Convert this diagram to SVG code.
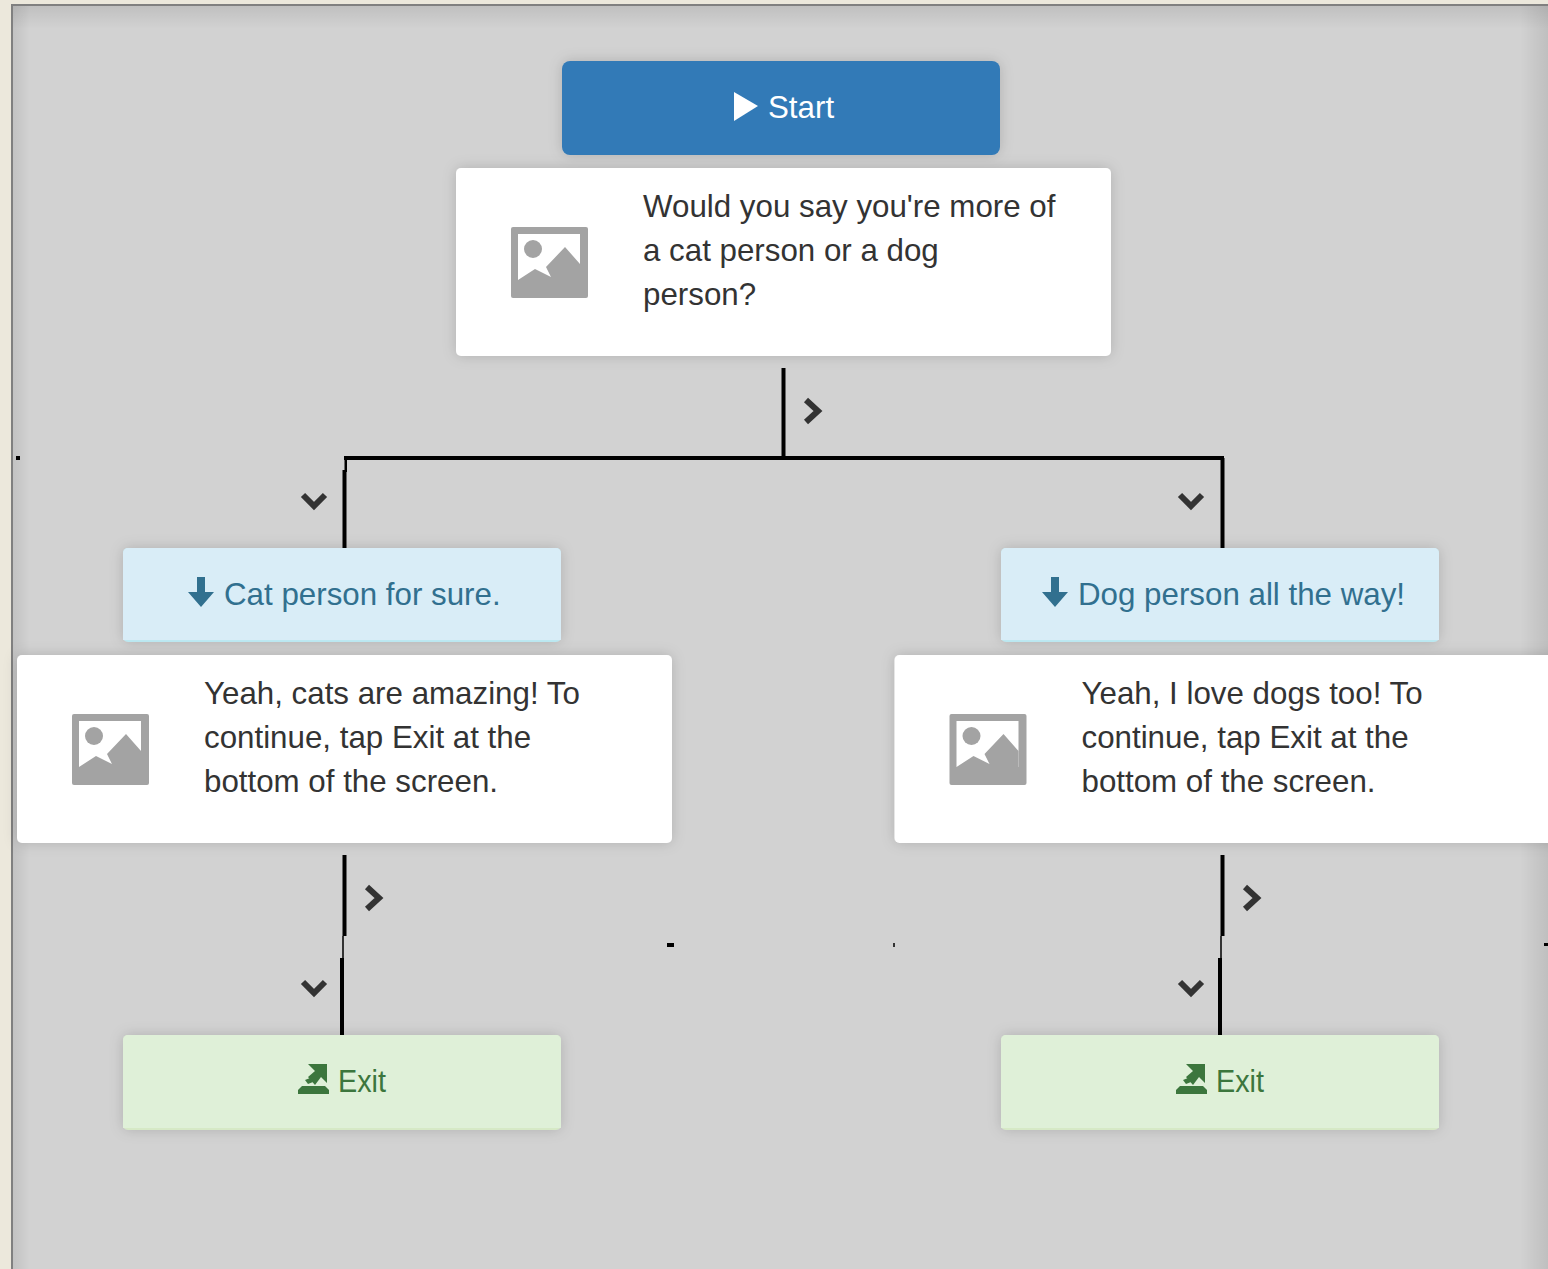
<svg xmlns="http://www.w3.org/2000/svg" width="1548" height="1269" viewBox="0 0 1548 1269">
<style>
text{font-family:"Liberation Sans",Arial,sans-serif;font-size:31.3px}
.body{fill:#333}
.card{fill:#fff}
.shadow{filter:url(#sh)}
.line{fill:#000}
.chev{fill:none;stroke:#333;stroke-width:6}
.ilabel{fill:#31708f}
.elabel{fill:#3c763d}
</style>
<defs>
<filter id="sh" x="-5%" y="-15%" width="110%" height="130%"><feDropShadow dx="0" dy="0" stdDeviation="7" flood-color="#000" flood-opacity="0.16"/></filter>
<linearGradient id="rg" x1="0" x2="1" y1="0" y2="0"><stop offset="0" stop-color="#000" stop-opacity="0"/><stop offset="1" stop-color="#000" stop-opacity="0.09"/></linearGradient>
<linearGradient id="tg" x1="0" x2="0" y1="0" y2="1"><stop offset="0" stop-color="#000" stop-opacity="0.09"/><stop offset="1" stop-color="#000" stop-opacity="0"/></linearGradient>
<linearGradient id="lg" x1="0" x2="1" y1="0" y2="0"><stop offset="0" stop-color="#000" stop-opacity="0.08"/><stop offset="1" stop-color="#000" stop-opacity="0"/></linearGradient>
<g id="img">
<rect width="77" height="71" rx="2" fill="#a3a3a3"/>
<rect x="7" y="7" width="62" height="46" fill="#fff"/>
<circle cx="22" cy="22" r="9" fill="#a3a3a3"/>
<path d="M7 53L24 42L40 50L35 40L54 20L69 37V60H7Z" fill="#a3a3a3"/>
</g>
<path id="down" d="M-4 -17H4V-2H13L0 13L-13 -2H-4Z"/>
<g id="exit"><path d="M0 31V27L4 23H27L31 27V31Z"/><path d="M10 1H29V20L23 14L17 22L10 14L17 8Z"/><path d="M7 17L12 15L15 19L10 21Z"/></g>
</defs>

<rect width="1548" height="1269" fill="#ece8dc"/>
<rect x="12" y="5" width="1536" height="1264" fill="#d2d2d2"/>
<rect x="1520" y="5" width="28" height="1264" fill="url(#rg)"/>
<rect x="12" y="5" width="1536" height="24" fill="url(#tg)"/>
<rect x="12" y="5" width="18" height="1264" fill="url(#lg)"/>
<rect x="11" y="4" width="1537" height="2" fill="#808080"/>
<rect x="11" y="4" width="2" height="1265" fill="#808080"/>

<g id="connectors">
<rect class="line" x="781.500" y="368" width="4" height="90"/>
<rect class="line" x="344" y="456" width="880" height="4"/>
<rect class="line" x="344.500" y="458" width="2.500" height="14"/>
<rect class="line" x="342.500" y="470" width="4" height="78"/>
<rect class="line" x="1220.500" y="458" width="4" height="90"/>
<rect class="line" x="342.500" y="855" width="4" height="81"/>
<rect x="342" y="936" width="2" height="22" fill="#333"/>
<rect class="line" x="340" y="958" width="4" height="77"/>
<rect class="line" x="1220.500" y="855" width="4" height="81"/>
<rect x="1220" y="936" width="2" height="22" fill="#333"/>
<rect class="line" x="1218" y="958" width="4" height="77"/>
<rect class="line" x="16" y="456" width="4" height="4"/>
<rect class="line" x="667" y="943" width="7" height="4"/>
<rect x="893" y="943" width="2" height="4" fill="#333"/>
<rect class="line" x="1544" y="943" width="4" height="3"/>
<polyline class="chev" points="806,400 818,411 806,422"/>
<polyline class="chev" points="367,887 379,898 367,909"/>
<polyline class="chev" points="1245,887 1257,898 1245,909"/>
<polyline class="chev" points="303,495 314,506 325,495"/>
<polyline class="chev" points="1180,495 1191,506 1202,495"/>
<polyline class="chev" points="303,982 314,993 325,982"/>
<polyline class="chev" points="1180,982 1191,993 1202,982"/>
</g>

<g id="start">
<rect class="shadow" x="562" y="61" width="438" height="94" rx="8" fill="#337ab7"/>
<polygon points="734,92 758,106 734,121" fill="#fff"/>
<text x="768" y="118" fill="#fff">Start</text>
</g>
<g id="question">
<rect class="card shadow" x="456" y="168" width="655" height="188" rx="5"/>
<use href="#img" x="511" y="227"/>
<text class="body" x="643" y="217">Would you say you're more of</text>
<text class="body" x="643" y="261">a cat person or a dog</text>
<text class="body" x="643" y="305">person?</text>
</g>
<g id="choice-cat">
<rect class="shadow" x="123" y="548" width="438" height="94" rx="5" fill="#bce8f1"/>
<path d="M128 548H556A5 5 0 0 1 561 553V640H123V553A5 5 0 0 1 128 548Z" fill="#d9edf7"/>
<use href="#down" x="201" y="594" fill="#31708f"/>
<text class="ilabel" x="224" y="605">Cat person for sure.</text>
</g>
<g id="reply-cat">
<rect class="card shadow" x="17" y="655" width="655" height="188" rx="5"/>
<use href="#img" x="72" y="714"/>
<text class="body" x="204" y="704">Yeah, cats are amazing! To</text>
<text class="body" x="204" y="748">continue, tap Exit at the</text>
<text class="body" x="204" y="792">bottom of the screen.</text>
</g>
<g id="choice-dog">
<rect class="shadow" x="1001" y="548" width="438" height="94" rx="5" fill="#bce8f1"/>
<path d="M1006 548H1434A5 5 0 0 1 1439 553V640H1001V553A5 5 0 0 1 1006 548Z" fill="#d9edf7"/>
<use href="#down" x="1055" y="594" fill="#31708f"/>
<text class="ilabel" x="1078" y="605">Dog person all the way!</text>
</g>
<g id="reply-dog">
<rect class="card shadow" x="894.500" y="655" width="665" height="188" rx="5"/>
<use href="#img" x="949.500" y="714"/>
<text class="body" x="1081.500" y="704">Yeah, I love dogs too! To</text>
<text class="body" x="1081.500" y="748">continue, tap Exit at the</text>
<text class="body" x="1081.500" y="792">bottom of the screen.</text>
</g>
<g id="exit-cat">
<rect class="shadow" x="123" y="1035" width="438" height="95" rx="5" fill="#d6e9c6"/>
<path d="M128 1035H556A5 5 0 0 1 561 1040V1128H123V1040A5 5 0 0 1 128 1035Z" fill="#dff0d8"/>
<use href="#exit" x="298" y="1063" fill="#3c763d"/>
<text class="elabel" x="338" y="1092" textLength="48" lengthAdjust="spacingAndGlyphs">Exit</text>
</g>
<g id="exit-dog">
<rect class="shadow" x="1001" y="1035" width="438" height="95" rx="5" fill="#d6e9c6"/>
<path d="M1006 1035H1434A5 5 0 0 1 1439 1040V1128H1001V1040A5 5 0 0 1 1006 1035Z" fill="#dff0d8"/>
<use href="#exit" x="1176" y="1063" fill="#3c763d"/>
<text class="elabel" x="1216" y="1092" textLength="48" lengthAdjust="spacingAndGlyphs">Exit</text>
</g>
</svg>
